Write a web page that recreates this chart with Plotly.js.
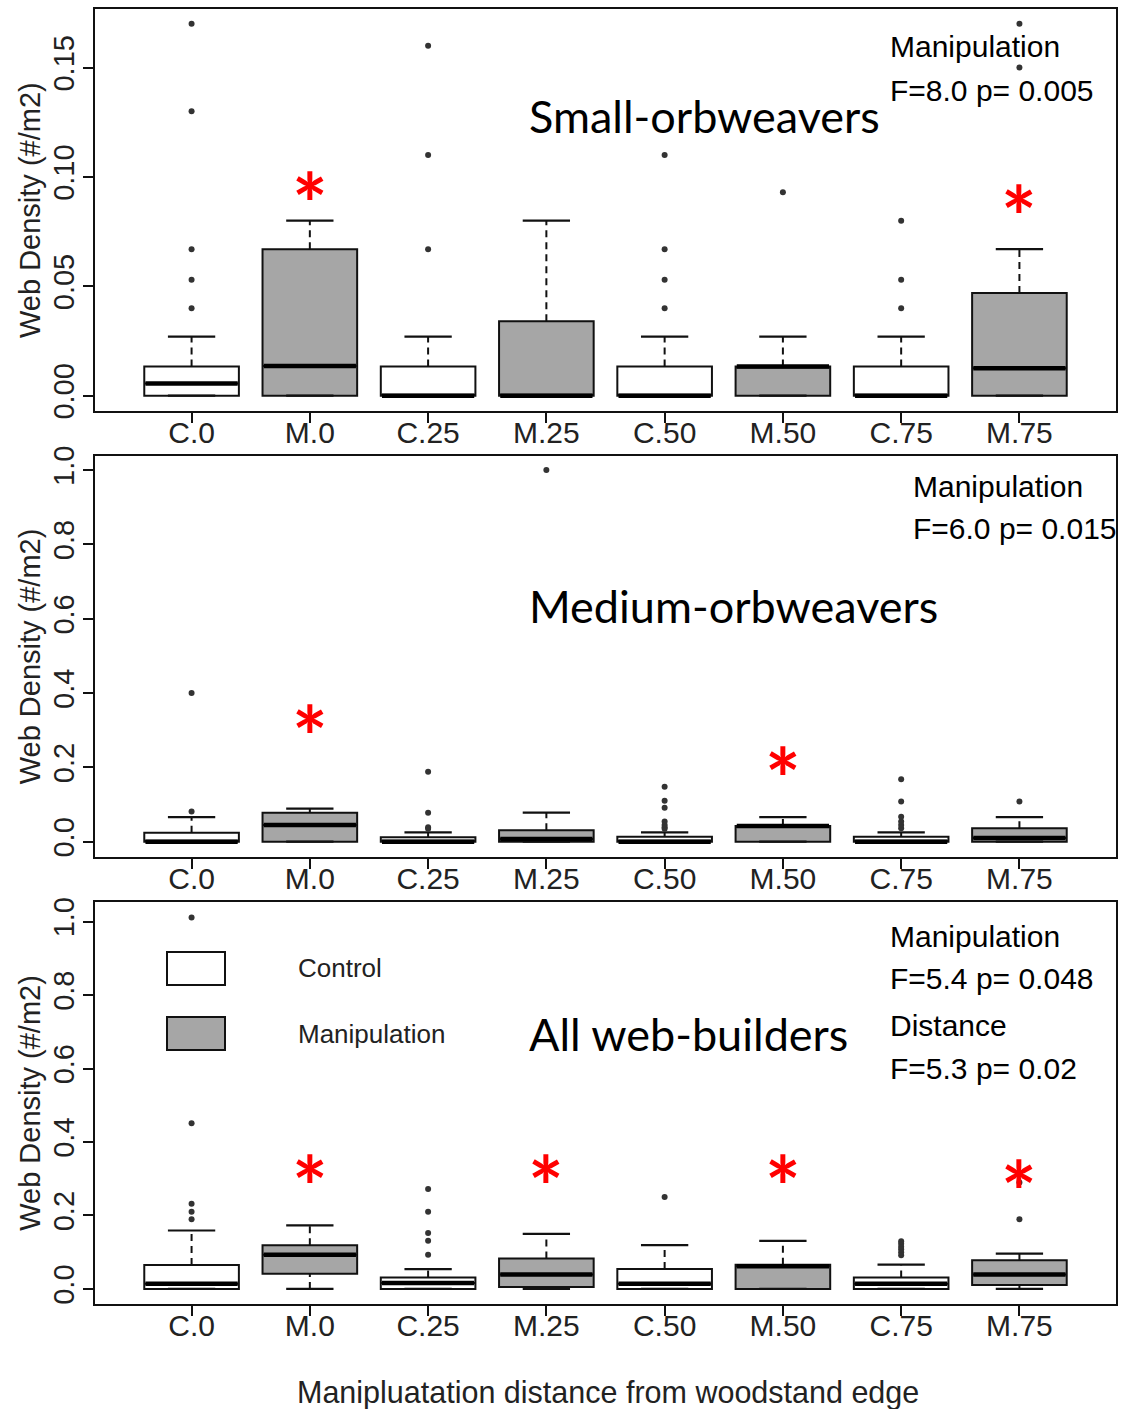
<!DOCTYPE html>
<html>
<head>
<meta charset="utf-8">
<script src="https://cdn.plot.ly/plotly-3.0.1.min.js"></script>
<style>
  html, body { margin: 0; padding: 0; background: #fff; }
  #chart { width: 1124px; height: 1409px; }
</style>
</head>
<body>
<div id="chart"></div>
<script>
// Treatment groups along the x axis (C = control, M = manipulation, number = distance in m)
const categories = ['C.0', 'M.0', 'C.25', 'M.25', 'C.50', 'M.50', 'C.75', 'M.75'];
const isManipulation = [false, true, false, true, false, true, false, true];

// Small orbweavers: five-number summaries and outliers (webs per m2)
const smallLow    = [0, 0, 0, 0, 0, 0, 0, 0];
const smallQ1     = [0, 0, 0, 0, 0, 0, 0, 0];
const smallMedian = [0.0056, 0.0136, 0, 0, 0, 0.0133, 0, 0.0125];
const smallQ3     = [0.0133, 0.067, 0.0133, 0.034, 0.0133, 0.0133, 0.0133, 0.047];
const smallHigh   = [0.027, 0.080, 0.027, 0.080, 0.027, 0.027, 0.027, 0.067];
const smallOutliers = [
  [0.040, 0.053, 0.067, 0.130, 0.170],
  [],
  [0.067, 0.110, 0.160],
  [],
  [0.040, 0.053, 0.067, 0.110],
  [0.093],
  [0.040, 0.053, 0.080],
  [0.150, 0.170]
];
const smallTicks = [0, 0.05, 0.10, 0.15];
const smallTickText = ['0.00', '0.05', '0.10', '0.15'];
const smallRange = [-0.007, 0.1768];
const smallStars = [1, 7];
const smallStarY = [0.0955, 0.0895];

// Medium orbweavers
const mediumLow    = [0, 0, 0, 0, 0, 0, 0, 0];
const mediumQ1     = [0, 0, 0, 0, 0, 0, 0, 0];
const mediumMedian = [0, 0.045, 0, 0.007, 0, 0.042, 0, 0.010];
const mediumQ3     = [0.024, 0.078, 0.012, 0.031, 0.0135, 0.042, 0.0135, 0.036];
const mediumHigh   = [0.066, 0.089, 0.025, 0.078, 0.025, 0.066, 0.025, 0.066];
const mediumOutliers = [
  [0.081, 0.40],
  [],
  [0.035, 0.039, 0.078, 0.188],
  [1.0],
  [0.035, 0.039, 0.045, 0.054, 0.0915, 0.110, 0.148],
  [],
  [0.036, 0.045, 0.054, 0.067, 0.108, 0.168],
  [0.108]
];
const mediumTicks = [0, 0.2, 0.4, 0.6, 0.8, 1.0];
const mediumTickText = ['0.0', '0.2', '0.4', '0.6', '0.8', '1.0'];
const mediumRange = [-0.0404, 1.038];
const mediumStars = [1, 5];
const mediumStarY = [0.328, 0.215];

// All web-builders
const allLow    = [0, 0, 0, 0, 0, 0, 0, 0];
const allQ1     = [0, 0.041, 0, 0.005, 0, 0, 0, 0.011];
const allMedian = [0.0144, 0.093, 0.016, 0.039, 0.014, 0.062, 0.014, 0.039];
const allQ3     = [0.065, 0.119, 0.031, 0.083, 0.054, 0.066, 0.031, 0.078];
const allHigh   = [0.159, 0.173, 0.054, 0.150, 0.119, 0.131, 0.066, 0.096];
const allOutliers = [
  [0.190, 0.210, 0.232, 0.451, 1.011],
  [],
  [0.093, 0.131, 0.152, 0.210, 0.272],
  [],
  [0.250],
  [],
  [0.092, 0.100, 0.108, 0.115, 0.123, 0.130],
  [0.190, 0.290]
];
const allTicks = [0, 0.2, 0.4, 0.6, 0.8, 1.0];
const allTickText = ['0.0', '0.2', '0.4', '0.6', '0.8', '1.0'];
const allRange = [-0.041, 1.054];
const allStars = [1, 3, 5, 7];
const allStarY = [0.324, 0.324, 0.324, 0.311];

// Figure geometry (pixels)
const W = 1124, H = 1409;
const px = x => x / W;
const py = y => 1 - y / H;

const plotLeft = 94.6, plotRight = 1116.4;
const panelTop    = [9, 456, 901.7];
const panelBottom = [411, 856.7, 1304];

const INK = '#111111';
const LABEL = '#222222';
const GREY = '#a6a6a6';
const RFONT = 'Liberation Sans, Arial, Helvetica, sans-serif';
const TITLEFONT = 'Lato, Carlito, Calibri, Open Sans, sans-serif';
const STAR_SIZE = 84;

const panels = [
  { low: smallLow, q1: smallQ1, med: smallMedian, q3: smallQ3, high: smallHigh, out: smallOutliers,
    ticks: smallTicks, tickText: smallTickText, range: smallRange, stars: smallStars, starY: smallStarY },
  { low: mediumLow, q1: mediumQ1, med: mediumMedian, q3: mediumQ3, high: mediumHigh, out: mediumOutliers,
    ticks: mediumTicks, tickText: mediumTickText, range: mediumRange, stars: mediumStars, starY: mediumStarY },
  { low: allLow, q1: allQ1, med: allMedian, q3: allQ3, high: allHigh, out: allOutliers,
    ticks: allTicks, tickText: allTickText, range: allRange, stars: allStars, starY: allStarY }
];

const BOX_HALF = 0.4;    // half box width in category units
const CAP_HALF = 0.2;    // half staple width

const traces = [];
const layout = {
  width: W, height: H,
  margin: { l: 0, r: 0, t: 0, b: 0 },
  paper_bgcolor: '#ffffff',
  plot_bgcolor: '#ffffff',
  showlegend: false,
  hovermode: false,
  annotations: [],
  shapes: []
};

panels.forEach((p, k) => {
  const sfx = k === 0 ? '' : String(k + 1);
  const xa = 'x' + sfx, ya = 'y' + sfx;

  // Boxes (whiskers drawn separately so they can be dashed with staples)
  categories.forEach((c, i) => {
    traces.push({
      type: 'box', xaxis: xa, yaxis: ya,
      x: [i], q1: [p.q1[i]], median: [p.med[i]], q3: [p.q3[i]],
      lowerfence: [p.q1[i]], upperfence: [p.q3[i]],
      width: 2 * BOX_HALF,
      fillcolor: isManipulation[i] ? GREY : '#ffffff',
      line: { color: INK, width: 2 },
      boxpoints: false, hoverinfo: 'skip', showlegend: false
    });
  });

  const wx = [], wy = [];   // dashed whiskers
  const sx = [], sy = [];   // staples
  const mx = [], my = [];   // thick medians
  const ox = [], oy = [];   // outlying points
  categories.forEach((c, i) => {
    wx.push(i, i, null, i, i, null);
    wy.push(p.q3[i], p.high[i], null, p.low[i], p.q1[i], null);
    sx.push(i - CAP_HALF, i + CAP_HALF, null, i - CAP_HALF, i + CAP_HALF, null);
    sy.push(p.high[i], p.high[i], null, p.low[i], p.low[i], null);
    mx.push(i - BOX_HALF + 0.01, i + BOX_HALF - 0.01, null);
    my.push(p.med[i], p.med[i], null);
    p.out[i].forEach(v => { ox.push(i); oy.push(v); });
  });
  traces.push({ type: 'scatter', mode: 'lines', xaxis: xa, yaxis: ya, x: wx, y: wy,
    line: { color: INK, width: 2, dash: '7px,5px' }, hoverinfo: 'skip' });
  traces.push({ type: 'scatter', mode: 'lines', xaxis: xa, yaxis: ya, x: sx, y: sy,
    line: { color: INK, width: 2.2 }, hoverinfo: 'skip' });
  traces.push({ type: 'scatter', mode: 'lines', xaxis: xa, yaxis: ya, x: mx, y: my,
    line: { color: '#000000', width: 4.5 }, hoverinfo: 'skip' });
  traces.push({ type: 'scatter', mode: 'markers', xaxis: xa, yaxis: ya, x: ox, y: oy,
    marker: { color: '#333333', size: 6 }, hoverinfo: 'skip' });

  // Significance stars, centred on their data position
  p.stars.forEach((s, j) => {
    layout.annotations.push({
      xref: xa, yref: ya, x: s, y: p.starY[j],
      xanchor: 'center', yanchor: 'middle', yshift: -0.19 * STAR_SIZE,
      text: '*', showarrow: false,
      font: { family: TITLEFONT, size: STAR_SIZE, color: '#ff0000', weight: 'bold' }
    });
  });

  layout['xaxis' + sfx] = {
    domain: [px(plotLeft), px(plotRight)],
    anchor: ya,
    range: [-0.82, categories.length - 1 + 0.82],
    tickmode: 'array',
    tickvals: categories.map((c, i) => i),
    ticktext: categories,
    showline: true, mirror: true, linecolor: INK, linewidth: 2,
    ticks: 'outside', ticklen: 10, tickwidth: 2, tickcolor: INK,
    ticklabelstandoff: -16,
    tickfont: { family: RFONT, size: 30, color: LABEL },
    showgrid: false, zeroline: false, fixedrange: true
  };
  layout['yaxis' + sfx] = {
    domain: [py(panelBottom[k]), py(panelTop[k])],
    anchor: xa,
    range: p.range,
    tickmode: 'array',
    tickvals: p.ticks,
    ticktext: p.tickText,
    tickangle: -90,
    showline: true, mirror: true, linecolor: INK, linewidth: 2,
    ticks: 'outside', ticklen: 10, tickwidth: 2, tickcolor: INK,
    ticklabelstandoff: -3,
    tickfont: { family: RFONT, size: 29, color: LABEL },
    showgrid: false, zeroline: false, fixedrange: true
  };

  // y-axis title, centred on the panel
  layout.annotations.push({
    xref: 'paper', yref: 'paper',
    x: px(30), y: py((panelTop[k] + panelBottom[k]) / 2),
    xanchor: 'center', yanchor: 'middle',
    text: 'Web Density (#/m2)', textangle: -90, showarrow: false,
    font: { family: RFONT, size: 29, color: LABEL }
  });
});

// Panel titles
const panelTitles = ['Small-orbweavers', 'Medium-orbweavers', 'All web-builders'];
const panelTitleY = [116, 606, 1034];
panelTitles.forEach((t, k) => {
  layout.annotations.push({
    xref: 'paper', yref: 'paper', x: px(527), y: py(panelTitleY[k]),
    xanchor: 'left', yanchor: 'middle', text: t, showarrow: false,
    font: { family: TITLEFONT, size: 45, color: '#000000' }
  });
});

// Test statistics
const statLines = [
  { x: 888, y: 46, t: 'Manipulation' },
  { x: 888, y: 90, t: 'F=8.0 p= 0.005' },
  { x: 911, y: 487, t: 'Manipulation' },
  { x: 911, y: 529, t: 'F=6.0 p= 0.015' },
  { x: 888, y: 936, t: 'Manipulation' },
  { x: 888, y: 979, t: 'F=5.4 p= 0.048' },
  { x: 888, y: 1025, t: 'Distance' },
  { x: 888, y: 1068, t: 'F=5.3 p= 0.02' }
];
statLines.forEach(s => {
  layout.annotations.push({
    xref: 'paper', yref: 'paper', x: px(s.x), y: py(s.y),
    xanchor: 'left', yanchor: 'middle', text: s.t, showarrow: false,
    font: { family: RFONT, size: 30, color: '#000000' }
  });
});

// Legend (bottom panel)
const legendItems = [
  { label: 'Control', fill: '#ffffff', top: 952, bottom: 985 },
  { label: 'Manipulation', fill: GREY, top: 1017, bottom: 1050 }
];
legendItems.forEach(it => {
  layout.shapes.push({
    type: 'rect', xref: 'paper', yref: 'paper',
    x0: px(167), x1: px(225), y0: py(it.bottom), y1: py(it.top),
    fillcolor: it.fill, line: { color: INK, width: 2 }
  });
  layout.annotations.push({
    xref: 'paper', yref: 'paper', x: px(296), y: py((it.top + it.bottom) / 2),
    xanchor: 'left', yanchor: 'middle', text: it.label, showarrow: false,
    font: { family: RFONT, size: 26, color: LABEL }
  });
});

// Shared x-axis title
layout.annotations.push({
  xref: 'paper', yref: 'paper', x: px(608), y: py(1392),
  xanchor: 'center', yanchor: 'middle',
  text: 'Manipluatation distance from woodstand edge', showarrow: false,
  font: { family: RFONT, size: 30.5, color: LABEL }
});

Plotly.newPlot('chart', traces, layout, { staticPlot: true, displayModeBar: false });
</script>
</body>
</html>
